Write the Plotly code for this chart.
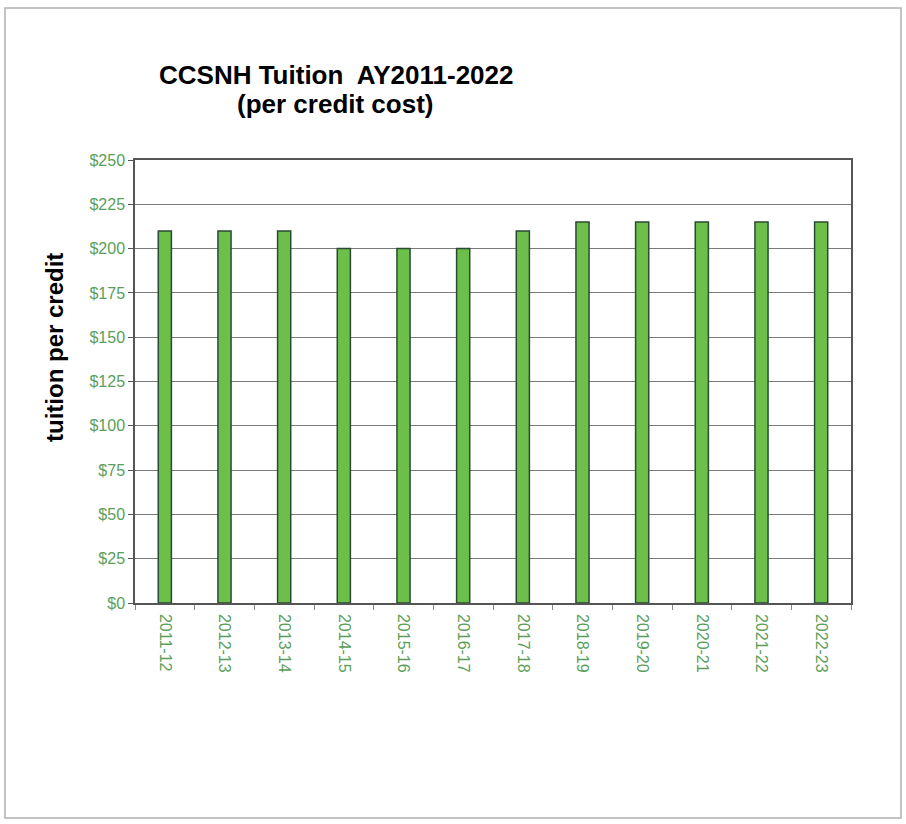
import plotly.graph_objects as go

years = ["2011-12", "2012-13", "2013-14", "2014-15", "2015-16", "2016-17",
         "2017-18", "2018-19", "2019-20", "2020-21", "2021-22", "2022-23"]
tuition = [210, 210, 210, 200, 200, 200, 210, 215, 215, 215, 215, 215]
ytick_vals = [0, 25, 50, 75, 100, 125, 150, 175, 200, 225, 250]
ytick_text = ["$0", "$25", "$50", "$75", "$100", "$125", "$150", "$175", "$200", "$225", "$250"]

green_txt = "#5a9e5a"
PW, PH, L, T = 716, 443, 135, 160

fig = go.Figure(go.Bar(
    x=years, y=tuition,
    marker=dict(color="#6cbf48", line=dict(color="#2b4a34", width=1.5)),
))

fig.update_layout(
    width=906, height=824,
    margin=dict(l=L, r=55, t=T, b=221),
    paper_bgcolor="white", plot_bgcolor="white",
    bargap=0.78,
    showlegend=False,
    font=dict(family="Liberation Sans, Arial, sans-serif"),
    annotations=[
        dict(text="<b>CCSNH Tuition  AY2011-2022</b>", xref="paper", yref="paper",
             x=(336 - L) / PW, y=1 + (T - 75) / PH, xanchor="center", yanchor="middle",
             showarrow=False, font=dict(size=26, color="black")),
        dict(text="<b>(per credit cost)</b>", xref="paper", yref="paper",
             x=(335 - L) / PW, y=1 + (T - 104) / PH, xanchor="center", yanchor="middle",
             showarrow=False, font=dict(size=26, color="black")),
        dict(text="<b>tuition per credit</b>", xref="paper", yref="paper",
             x=(54 - L) / PW, y=1 - (348 - T) / PH, xanchor="center", yanchor="middle",
             textangle=-90, showarrow=False, font=dict(size=24, color="black")),
    ],
    shapes=[
        dict(type="rect", xref="paper", yref="paper",
             x0=-130 / PW, x1=1 + 50 / PW, y0=-215 / PH, y1=1 + 152 / PH,
             line=dict(color="#b0b0b0", width=1.5), fillcolor="rgba(0,0,0,0)", layer="below"),
    ],
)

fig.update_xaxes(
    type="category", tickangle=90,
    tickfont=dict(size=16, color=green_txt),
    ticklabelstandoff=6,
    showline=True, linecolor="#555555", linewidth=1.5, mirror=True,
    ticks="outside", ticklen=5, tickcolor="#888888",
    tickson="boundaries", showgrid=False,
)
fig.update_yaxes(
    range=[0, 250], tickvals=ytick_vals, ticktext=ytick_text,
    tickfont=dict(size=16, color=green_txt),
    showline=True, linecolor="#555555", linewidth=1.5, mirror=True,
    ticks="outside", ticklen=5, tickcolor="#555555",
    showgrid=True, gridcolor="#7a7a7a", gridwidth=1,
)

fig.write_html("out.html")
